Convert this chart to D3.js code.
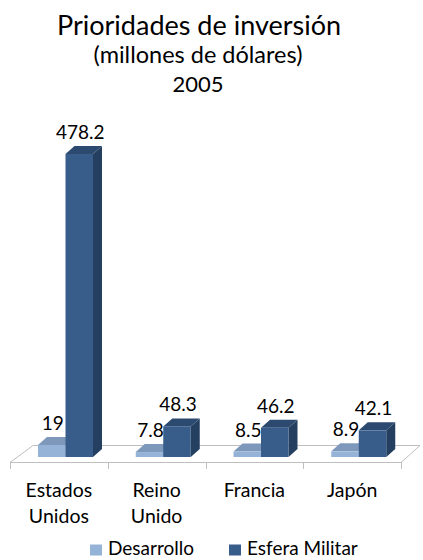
<!DOCTYPE html>
<html><head><meta charset="utf-8">
<script src="https://cdn.jsdelivr.net/npm/d3@7/dist/d3.min.js"></script>
<style>
html,body{margin:0;padding:0;background:#fff;}
svg{display:block;font-family:Lato, "Open Sans", sans-serif;}
</style></head>
<body><svg id="c" width="423" height="560"></svg>
<script>
const titleLines = ["Prioridades de inversión", "(millones de dólares)", "2005"];
const categories = ["Estados Unidos", "Reino Unido", "Francia", "Japón"];
const categoryLines = [["Estados", "Unidos"], ["Reino", "Unido"], ["Francia"], ["Japón"]];
const series = ["Desarrollo", "Esfera Militar"];
const desarrollo = [19, 7.8, 8.5, 8.9];
const militar = [478.2, 48.3, 46.2, 42.1];
const valueLabels = [["19", "7.8", "8.5", "8.9"], ["478.2", "48.3", "46.2", "42.1"]];

const colors = {
  "Desarrollo": {front: "#95b3d7", top: "#7d98ba", side: "#6f89a8"},
  "Esfera Militar": {front: "#385d8a", top: "#2c4a70", side: "#243f60"}
};

const svg = d3.select("#c");

// Title
const tl = svg.append("text").attr("text-anchor", "middle").attr("fill", "#000");
tl.append("tspan").attr("x", 199).attr("y", 35).attr("font-size", 27).text(titleLines[0]);
tl.append("tspan").attr("x", 198).attr("y", 63).attr("font-size", 23.5).text(titleLines[1]);
tl.append("tspan").attr("x", 198).attr("y", 92).attr("font-size", 22).text(titleLines[2]);

// Scales
const x0 = d3.scaleBand().domain(categories).range([10, 401]).paddingInner(0).paddingOuter(0);
const xs = d3.scaleBand().domain(series).range([28, 83]);
const y = d3.scaleLinear().domain([0, 500]).range([457, 140.2]);

// Floor
const floorFront = 462, floorBack = 445, fdx = 23;
const floor = svg.append("g").attr("fill", "none").attr("stroke", "#bfbfbf").attr("stroke-width", 1);
floor.append("path").attr("d",
  `M${x0.range()[0]},${floorFront + 0.5} L${x0.range()[0] + fdx},${floorBack + 0.5} L${x0.range()[1] + fdx - 4},${floorBack + 0.5} L${x0.range()[1]},${floorFront + 0.5} Z`);
const bounds = categories.map(c => x0(c)).concat([x0.range()[1]]);
floor.selectAll("line.tick").data(bounds).join("line")
  .attr("x1", d => Math.round(d) + 0.5).attr("x2", d => Math.round(d) + 0.5)
  .attr("y1", floorFront).attr("y2", floorFront + 7);

// Bars
const ddx = 9, ddy = -8;
const data = [];
categories.forEach((c, i) => {
  data.push({c, s: series[0], v: desarrollo[i], label: valueLabels[0][i]});
  data.push({c, s: series[1], v: militar[i], label: valueLabels[1][i]});
});
const bars = svg.append("g");
data.forEach(d => {
  const xl = x0(d.c) + xs(d.s), w = xs.bandwidth();
  const yt = y(d.v), yb = y(0);
  const g = bars.append("g");
  const col = colors[d.s];
  g.append("path").attr("fill", col.side)
    .attr("d", `M${xl + w},${yb} L${xl + w + ddx},${yb + ddy} L${xl + w + ddx},${yt + ddy} L${xl + w},${yt} Z`);
  g.append("path").attr("fill", col.top)
    .attr("d", `M${xl},${yt} L${xl + ddx},${yt + ddy} L${xl + w + ddx},${yt + ddy} L${xl + w},${yt} Z`);
  g.append("rect").attr("x", xl).attr("y", yt).attr("width", w).attr("height", yb - yt).attr("fill", col.front);
});
svg.append("g").selectAll("text").data(data).join("text")
  .attr("x", d => x0(d.c) + xs(d.s) + xs.bandwidth() / 2 + 1)
  .attr("y", d => y(d.v) - 15)
  .attr("text-anchor", "middle").attr("font-size", 19).attr("fill", "#000")
  .text(d => d.label);

// Category labels
const cl = svg.append("g").selectAll("text").data(categories).join("text")
  .attr("text-anchor", "middle").attr("font-size", 19.5).attr("fill", "#000");
cl.each(function(c, i) {
  const t = d3.select(this);
  categoryLines[i].forEach((ln, j) => {
    t.append("tspan").attr("x", x0(c) + x0.bandwidth() / 2).attr("y", 497 + j * 26).text(ln);
  });
});

// Legend
const legX = [90, 229];
const leg = svg.append("g");
series.forEach((s, i) => {
  leg.append("rect").attr("x", legX[i]).attr("y", 544.5).attr("width", 12).attr("height", 11).attr("fill", colors[s].front);
  leg.append("text").attr("x", legX[i] + 18).attr("y", 555).attr("font-size", 19).attr("fill", "#000").text(s);
});
</script></body></html>
